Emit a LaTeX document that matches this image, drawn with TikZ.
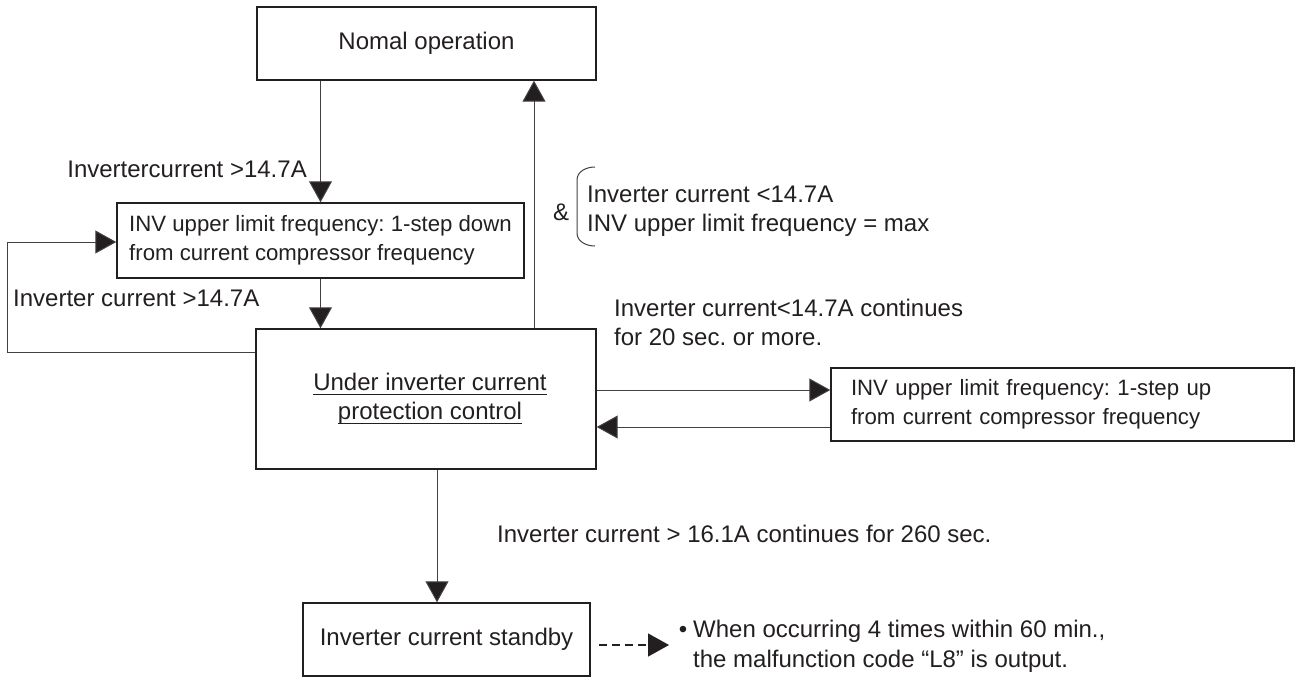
\documentclass[tikz,border=0pt]{standalone}
\usepackage{fontspec}
\setmainfont{Liberation Sans}
\usetikzlibrary{arrows.meta}
\definecolor{ink}{HTML}{231F20}
\newcommand\myul[1]{\setbox0\hbox{#1}\rlap{\rule[-4.5pt]{\wd0}{1.4pt}}\box0}
\frenchspacing
\begin{document}
\begin{tikzpicture}[x=1pt,y=-1pt,
  lbl/.style={font=\fontsize{24}{29}\selectfont, text=ink, inner sep=0pt},
  box/.style={draw=ink, line width=1.4pt, text=ink, inner ysep=0pt, font=\fontsize{24}{29}\selectfont},
  sbox/.style={box, font=\fontsize{22.2}{29.5}\selectfont, align=left},
  conn/.style={draw=ink!85, line width=1pt, -{Triangle[length=21pt,width=23pt,fill=ink]}},
  dconn/.style={conn, line width=1.3pt, draw=ink, dash pattern=on 8pt off 5pt},
  brc/.style={draw=ink!85, line width=1pt}]
\useasboundingbox (0,0) rectangle (1295,677);
% boxes
\node[box, minimum width=339pt, minimum height=73pt, inner xsep=0pt] (nomal) at (426.5,43.5) {Nomal operation};
\node[sbox, inner xsep=0pt, minimum width=407pt, minimum height=75pt] (invd) at (320.5,240.5) {INV upper limit frequency: 1-step down\\from current compressor frequency};
\node[box, align=center, minimum width=340pt, minimum height=140pt, inner xsep=0pt] (under) at (426,399) {\hspace*{8pt}\myul{Under inverter current}\\\hspace*{8pt}\myul{protection control}};
\node[sbox, text width=423pt, inner xsep=20pt, minimum height=73pt] (invu) at (1062.5,404.5) {INV upper limit frequency: 1-step up\\from current compressor frequency};
\node[box, minimum width=287pt, minimum height=73pt, inner xsep=0pt] (standby) at (446.5,639.5) {Inverter current standby};
% labels
\node[lbl, anchor=base east] (l1) at (307,177) {Invertercurrent >14.7A};
\node[lbl, anchor=base west] (l2) at (13,306) {Inverter current >14.7A};
\node[lbl, anchor=center] (amp) at (561,212) {\&};
\node[lbl, anchor=base west] (b1) at (587,202) {Inverter current <14.7A};
\node[lbl, anchor=base west] (b2) at (587,231) {INV upper limit frequency = max};
\node[lbl, anchor=base west] (c1) at (614,316) {Inverter current<14.7A continues};
\node[lbl, anchor=base west] (c2) at (614,345) {for 20 sec. or more.};
\node[lbl, anchor=base west] (l3) at (497,542) {Inverter current > 16.1A continues for 260 sec.};
\node[lbl, anchor=base west] (m1) at (693,637) {\llap{•\hspace{6pt}}When occurring 4 times within 60 min.,};
\node[lbl, anchor=base west] (m2) at (693,667) {the malfunction code “L8” is output.};
% helper coordinates
\coordinate (upx) at (534,0);
\coordinate (dnx) at (437,0);
\coordinate (loopA) at (7,352);
\coordinate (loopB) at (7,242);
\coordinate (r1) at (0,390);
\coordinate (r2) at (0,427);
\coordinate (ds) at (599,645);
\coordinate (de) at (669,645);
% connectors
\draw[conn] (nomal.south -| invd.north) -- (invd.north);
\draw[conn] (invd.south) -- (invd.south |- under.north);
\draw[conn] (under.north -| upx) -- (nomal.south -| upx);
\draw[conn] (loopA -| under.west) -- (loopA) -- (loopB) -- (loopB -| invd.west);
\draw[conn] (r1 -| under.east) -- (r1 -| invu.west);
\draw[conn] (r2 -| invu.west) -- (r2 -| under.east);
\draw[conn] (under.south -| dnx) -- (standby.north -| dnx);
\draw[dconn] (ds) -- (de);
% brace
\draw[brc] (595,167) to[out=180,in=90] (577,180) -- (577,233) to[out=-90,in=180] (595,246);
\end{tikzpicture}
\end{document}
